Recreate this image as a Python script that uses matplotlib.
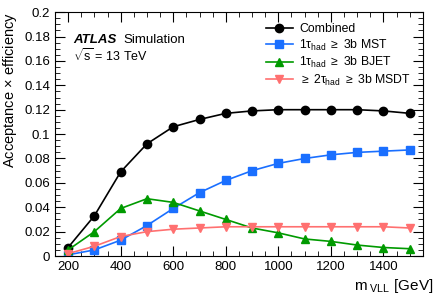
import numpy as np
import matplotlib
matplotlib.use("Agg")
import matplotlib.pyplot as plt
from matplotlib.ticker import MultipleLocator, FuncFormatter

plt.rcParams['font.family'] = ['Liberation Sans', 'DejaVu Sans']
plt.rcParams['mathtext.fontset'] = 'custom'
plt.rcParams['mathtext.rm'] = 'Liberation Sans'
plt.rcParams['mathtext.it'] = 'Liberation Sans:italic'

# data
masses = [200, 300, 400, 500, 600, 700, 800, 900, 1000, 1100, 1200, 1300, 1400, 1500]
combined = [0.007, 0.033, 0.069, 0.092, 0.106, 0.112, 0.117, 0.119, 0.120, 0.120, 0.120, 0.120, 0.119, 0.117]
mst = [0.001, 0.005, 0.013, 0.025, 0.039, 0.052, 0.062, 0.070, 0.076, 0.080, 0.083, 0.085, 0.086, 0.087]
bjet = [0.005, 0.020, 0.039, 0.047, 0.044, 0.037, 0.030, 0.023, 0.019, 0.014, 0.012, 0.009, 0.007, 0.006]
msdt = [0.002, 0.008, 0.016, 0.020, 0.022, 0.023, 0.024, 0.024, 0.024, 0.024, 0.024, 0.024, 0.024, 0.023]

labels = ["Combined",
          r"1$\mathrm{\tau_{had}}$ $\geq$ 3b MST",
          r"1$\mathrm{\tau_{had}}$ $\geq$ 3b BJET",
          r"$\geq$ 2$\mathrm{\tau_{had}}$ $\geq$ 3b MSDT"]

fig = plt.figure(figsize=(4.36, 2.96), dpi=100)
ax = fig.add_axes([0.126, 0.135, 0.844, 0.824])

ax.plot(masses, combined, color='black', marker='o', ms=6, lw=1.2, label=labels[0])
ax.plot(masses, mst, color='#1a6fff', marker='s', ms=6, lw=1.2, label=labels[1])
ax.plot(masses, bjet, color='#009a00', marker='^', ms=6, lw=1.2, label=labels[2])
ax.plot(masses, msdt, color='#ff7070', marker='v', ms=6, lw=1.2, label=labels[3])

ax.set_xlim(150, 1550)
ax.set_ylim(0, 0.2)
ax.xaxis.set_major_locator(MultipleLocator(200))
ax.xaxis.set_minor_locator(MultipleLocator(50))
ax.yaxis.set_major_locator(MultipleLocator(0.02))
ax.yaxis.set_minor_locator(MultipleLocator(0.005))
ax.yaxis.set_major_formatter(FuncFormatter(lambda v, p: "%g" % round(v, 3)))
ax.tick_params(which='both', direction='in', top=True, right=True, labelsize=9.5)
ax.tick_params(which='major', length=7)
ax.tick_params(which='minor', length=3.5)

ax.set_ylabel(r"Acceptance $\times$ efficiency", fontsize=10.5, loc='top')
ax.yaxis.set_label_coords(-0.098, 1.0)
ax.set_xlabel(r"m$_{\mathrm{\ VLL}}$ [GeV]", fontsize=11, loc='right')
ax.xaxis.set_label_coords(1.027, -0.085)

ax.text(0.05, 0.875, "ATLAS", transform=ax.transAxes, fontsize=9.5,
        fontweight='bold', fontstyle='italic')
ax.text(0.185, 0.875, "Simulation", transform=ax.transAxes, fontsize=9.5)
ax.text(0.05, 0.8, r"$\sqrt{\mathrm{s}}$ = 13 TeV", transform=ax.transAxes, fontsize=9)

ax.legend(loc='upper left', bbox_to_anchor=(0.573, 0.955), frameon=False, fontsize=8.8,
          handlelength=2.2, handletextpad=0.55, labelspacing=0.2,
          borderaxespad=0, borderpad=0)

fig.savefig("out.png", dpi=100)
